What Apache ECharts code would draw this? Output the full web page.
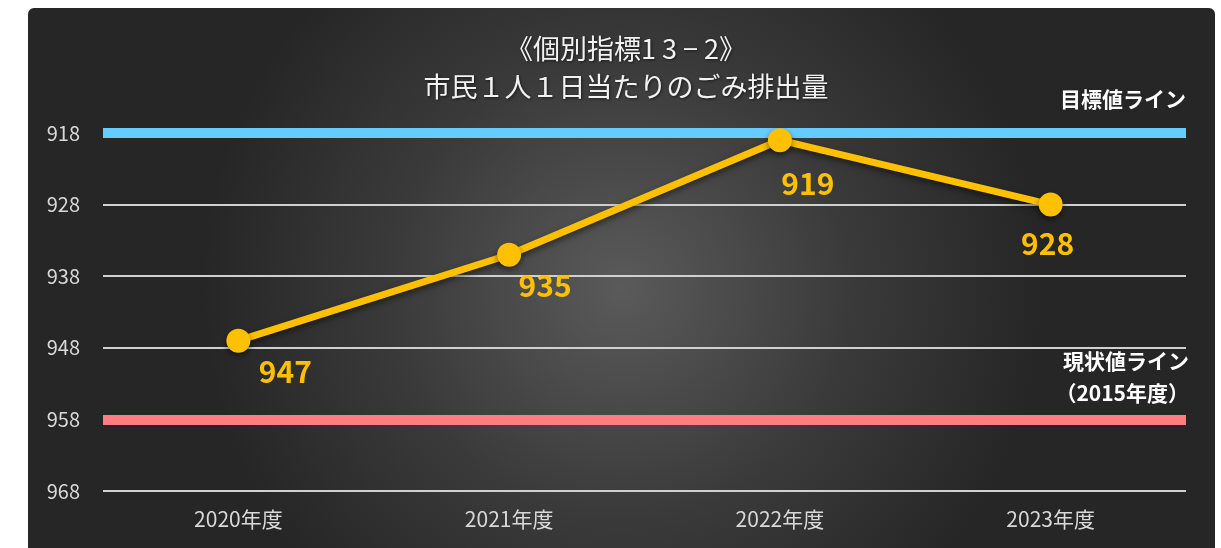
<!DOCTYPE html>
<html>
<head>
<meta charset="utf-8">
<script src="https://cdn.jsdelivr.net/npm/echarts@6/dist/echarts.min.js"></script>
<style>
html, body { margin: 0; padding: 0; background: #fff; }
#chart { width: 1221px; height: 548px; }
</style>
</head>
<body>
<div id="chart"></div>
<script>
// 年度
var years = ['2020年度', '2021年度', '2022年度', '2023年度'];
// 市民1人1日当たりのごみ排出量
var amounts = [947, 935, 919, 928];
// 目標値・現状値
var targetValue = 918;
var baseValue = 958;
// 値ラベルの位置ずれ
var labelOffsets = [[47, 31], [36, 31], [28, 43], [-3, 39]];

var font = '"Noto Sans CJK JP", "Noto Sans", sans-serif';

var chart = echarts.init(document.getElementById('chart'));

var option = {
	animation: false,
	backgroundColor: '#fff',
	graphic: [{
		type: 'rect',
		z: -10,
		shape: { x: 28, y: 8, width: 1187, height: 560, r: 6 },
		style: {
			fill: {
				type: 'radial', x: 0.5, y: 0.5, r: 0.75,
				colorStops: [
					{ offset: 0, color: '#5a5a5a' },
					{ offset: 0.55, color: '#3a3a3a' },
					{ offset: 1, color: '#262626' }
				]
			}
		}
	}],
	title: {
		text: '《個別指標1 3 \u2212 2》\n市民１人１日当たりのごみ排出量',
		left: 621,
		top: 25,
		textAlign: 'center',
		textStyle: {
			color: '#f2f2f2',
			fontFamily: font,
			fontSize: 27,
			fontWeight: 'normal',
			lineHeight: 38,
			textShadowColor: 'rgba(0,0,0,0.6)',
			textShadowBlur: 3,
			textShadowOffsetX: 1,
			textShadowOffsetY: 1
		}
	},
	grid: { left: 103, right: 35, top: 133, bottom: 57 },
	xAxis: {
		type: 'category',
		data: years,
		axisLine: { show: false },
		axisTick: { show: false },
		axisLabel: { color: '#d9d9d9', fontSize: 21, fontFamily: font, margin: 18 }
	},
	yAxis: {
		type: 'value',
		inverse: true,
		min: 918,
		max: 968,
		interval: 10,
		axisLine: { show: false },
		axisTick: { show: false },
		axisLabel: { color: '#d9d9d9', fontSize: 20, fontFamily: font, margin: 23 },
		splitLine: { lineStyle: { color: '#d0d0d0', width: 2 } }
	},
	series: [{
		type: 'line',
		data: amounts.map(function(v, i) {
			return { value: v, label: { offset: labelOffsets[i] } };
		}),
		z: 5,
		symbol: 'circle',
		symbolSize: 24,
		lineStyle: {
			color: '#ffc000', width: 7,
			shadowColor: 'rgba(0,0,0,0.5)', shadowBlur: 6, shadowOffsetY: 3
		},
		itemStyle: {
			color: '#ffc000',
			shadowColor: 'rgba(0,0,0,0.5)', shadowBlur: 6, shadowOffsetY: 3
		},
		label: {
			show: true,
			position: 'inside',
			color: '#ffc000',
			fontSize: 30,
			fontWeight: 'bold',
			fontFamily: font
		},
		markLine: {
			silent: true,
			symbol: 'none',
			z: 3,
			data: [{
				yAxis: targetValue,
				lineStyle: { color: '#66ccff', width: 10, type: 'solid' },
				label: {
					formatter: '目標値ライン',
					position: 'insideEndTop',
					distance: [0, 18]
				}
			}, {
				yAxis: baseValue,
				lineStyle: { color: '#ff7c80', width: 10, type: 'solid' },
				label: {
					formatter: '現状値ライン\n（2015年度）',
					position: 'insideEndTop',
					distance: [-3, 10],
					align: 'right'
				}
			}],
			label: {
				color: '#ffffff',
				fontSize: 21,
				fontWeight: 'bold',
				fontFamily: font,
				lineHeight: 32
			}
		}
	}]
};

chart.setOption(option);
</script>
</body>
</html>
